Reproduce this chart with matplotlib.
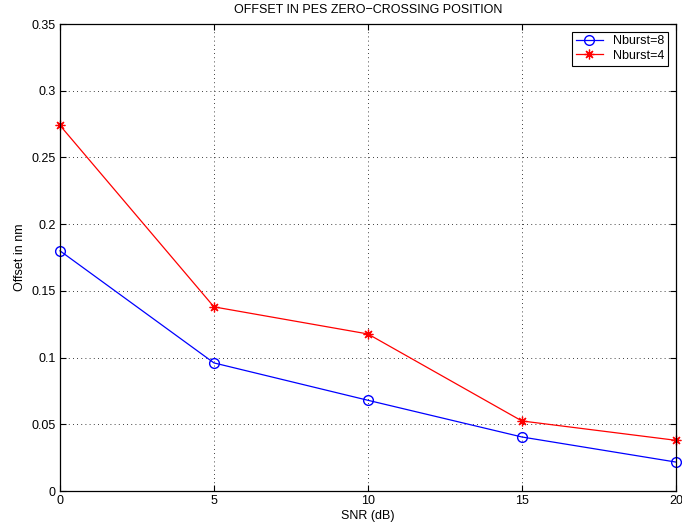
import matplotlib
matplotlib.use('Agg')
import matplotlib.pyplot as plt

# data
snr = [0, 5, 10, 15, 20]
nburst8 = [0.180, 0.096, 0.068, 0.0405, 0.0217]
nburst4 = [0.274, 0.138, 0.1177, 0.0525, 0.038]

xticks = [0, 5, 10, 15, 20]
yticks = [0, 0.05, 0.1, 0.15, 0.2, 0.25, 0.3, 0.35]
ytick_labels = ['0', '0.05', '0.1', '0.15', '0.2', '0.25', '0.3', '0.35']

plt.rcParams['font.family'] = ['Liberation Sans', 'DejaVu Sans']
plt.rcParams['font.size'] = 9

fig = plt.figure(figsize=(6.82, 5.29), dpi=100)
ax = fig.add_axes([0.088, 0.0718, 0.903, 0.8828])

ax.plot(snr, nburst8, color='blue', marker='o', markersize=7, markerfacecolor='none',
        markeredgecolor='blue', linewidth=0.9, label='Nburst=8', clip_on=False)
ax.plot(snr, nburst4, color='red', marker=(8, 2, 0), markersize=7, markerfacecolor='none',
        markeredgecolor='red', markeredgewidth=0.9, linewidth=0.9, label='Nburst=4', clip_on=False)

ax.set_xlim(0, 20)
ax.set_ylim(0, 0.35)
ax.set_xticks(xticks)
ax.set_yticks(yticks)
ax.set_yticklabels(ytick_labels)
ax.tick_params(direction='in', top=True, right=True, length=4, width=0.8, pad=3)
ax.grid(True, color='black', linestyle=(0, (1, 4)), linewidth=0.6)
for s in ax.spines.values():
    s.set_linewidth(0.9)

ax.set_xlabel('SNR (dB)', labelpad=2)
ax.set_ylabel('Offset in nm', labelpad=4)
ax.set_title('OFFSET IN PES ZERO\u2212CROSSING POSITION', fontsize=9, pad=8)

leg = ax.legend(loc='upper right', fancybox=False, framealpha=1, edgecolor='black',
                borderaxespad=0.6, handlelength=2.2, borderpad=0.3, labelspacing=0.2)
leg.get_frame().set_linewidth(0.8)

fig.savefig('out.png', dpi=100)
